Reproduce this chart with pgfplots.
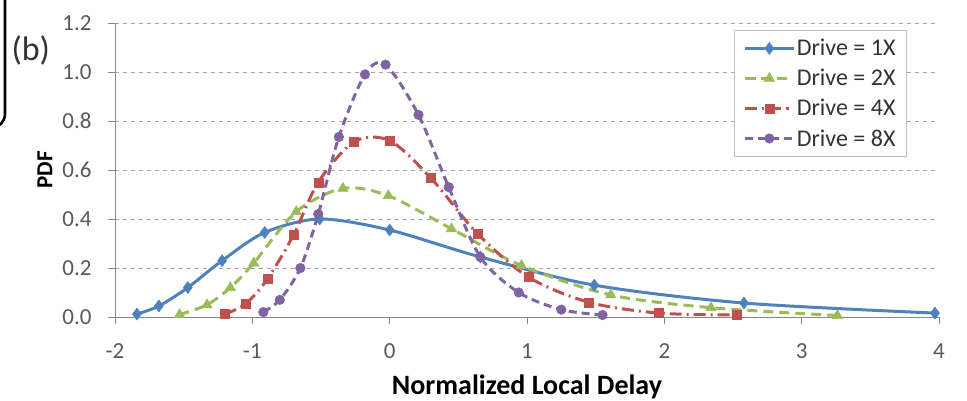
\documentclass[border=0pt]{standalone}
\usepackage{pgfplots}
\pgfplotsset{compat=1.18}
\usepackage{fontspec}
\setmainfont{Carlito}

\definecolor{c1x}{HTML}{4F81BD}
\definecolor{c2x}{HTML}{9BBB59}
\definecolor{c4x}{HTML}{C0504D}
\definecolor{c8x}{HTML}{8064A2}
\definecolor{axisgray}{HTML}{868686}
\definecolor{gridgray}{HTML}{A6A6A6}
\definecolor{labelgray}{HTML}{595959}

\pgfplotstableread{
x y
-1.84 0.012
-1.68 0.045
-1.47 0.12
-1.22 0.23
-0.91 0.345
-0.51 0.40
0.00 0.355
0.66 0.245
1.49 0.13
2.58 0.057
3.97 0.016
}\driveone

\pgfplotstableread{
x y
-1.53 0.01
-1.33 0.05
-1.16 0.12
-0.99 0.22
-0.68 0.43
-0.34 0.525
-0.01 0.495
0.45 0.36
0.96 0.21
1.61 0.09
2.34 0.038
3.26 0.006
}\drivetwo

\pgfplotstableread{
x y
-1.20 0.012
-1.05 0.053
-0.89 0.155
-0.70 0.335
-0.52 0.55
-0.26 0.715
0.00 0.72
0.30 0.567
0.64 0.34
1.01 0.163
1.45 0.06
1.96 0.016
2.53 0.008
}\drivefour

\pgfplotstableread{
x y
-0.92 0.02
-0.80 0.07
-0.65 0.20
-0.52 0.42
-0.37 0.735
-0.18 0.99
-0.03 1.03
0.21 0.825
0.43 0.53
0.66 0.245
0.94 0.10
1.25 0.03
1.55 0.008
}\driveeight

\begin{document}
\begin{tikzpicture}
\useasboundingbox (0pt,0pt) rectangle (967pt,400pt);
\clip (0pt,0pt) rectangle (967pt,400pt);

% corner of the neighbouring panel frame
\draw[line width=2.6pt, rounded corners=14pt] (5pt,420pt) -- (5pt,272pt) -- (-30pt,272pt);

% panel tag
\node[anchor=west, font=\fontsize{34}{38}\selectfont, text=black!80] at (8pt,350pt) {(b)};

\begin{axis}[
  at={(115pt,83pt)}, anchor=south west,
  scale only axis, width=824pt, height=294pt,
  xmin=-2, xmax=4, ymin=0, ymax=1.2,
  axis lines*=left,
  axis line style={axisgray, line width=0.9pt},
  xtick={-2,-1,0,1,2,3,4},
  xticklabels={-2,-1,0,1,2,3,4},
  ytick={0,0.2,0.4,0.6,0.8,1.0,1.2},
  yticklabels={0.0,0.2,0.4,0.6,0.8,1.0,1.2},
  tick align=outside,
  major tick length=7pt,
  tick style={axisgray, line width=0.8pt},
  ymajorgrids,
  major grid style={gridgray, line width=0.9pt, dash pattern=on 4pt off 4pt},
  ticklabel style={font=\fontsize{23}{26}\selectfont, text=labelgray},
  xticklabel style={yshift=-16pt},
  yticklabel style={xshift=-13pt},
  xlabel={\textbf{Normalized Local Delay}},
  ylabel={\textbf{PDF}},
  xlabel style={font=\fontsize{28}{32}\selectfont, at={(axis description cs:0.5,-0.262)}, anchor=base},
  ylabel style={font=\fontsize{23}{26}\selectfont, at={(axis description cs:-0.085,0.5)}, anchor=center, rotate=0},
  clip=false,
  legend style={
    at={(0.961,0.976)}, anchor=north east,
    draw=black!25, line width=0.8pt, fill=white,
    font=\fontsize{24}{27}\selectfont, text=black!80,
    row sep=8pt, inner xsep=9pt, inner ysep=7pt,
    cells={anchor=west},
  },
  legend image code/.code={%
    \draw[mark repeat=2, mark phase=2, #1] plot coordinates {(0pt,0pt) (24pt,0pt) (48pt,0pt)};
  },
]
\addplot[c1x, line width=3pt, smooth, mark=diamond*, mark size=6pt,
  mark options={solid, fill=c1x, draw=c1x, line width=0.5pt}]
  table {\driveone};
\addlegendentry{Drive = 1X}

\addplot[c2x, line width=3pt, smooth, dash pattern=on 10pt off 6pt,
  mark=triangle*, mark size=6pt,
  mark options={solid, fill=c2x, draw=c2x, line width=0.5pt}]
  table {\drivetwo};
\addlegendentry{Drive = 2X}

\addplot[c4x, line width=3pt, smooth, dash pattern=on 12pt off 5pt on 2pt off 5pt,
  mark=square*, mark size=4.5pt,
  mark options={solid, fill=c4x, draw=c4x, line width=0.5pt}]
  table {\drivefour};
\addlegendentry{Drive = 4X}

\addplot[c8x, line width=3pt, smooth, dash pattern=on 8pt off 5pt,
  mark=*, mark size=4.8pt,
  mark options={solid, fill=c8x, draw=c8x, line width=0.5pt}]
  table {\driveeight};
\addlegendentry{Drive = 8X}
\end{axis}
\end{tikzpicture}
\end{document}
